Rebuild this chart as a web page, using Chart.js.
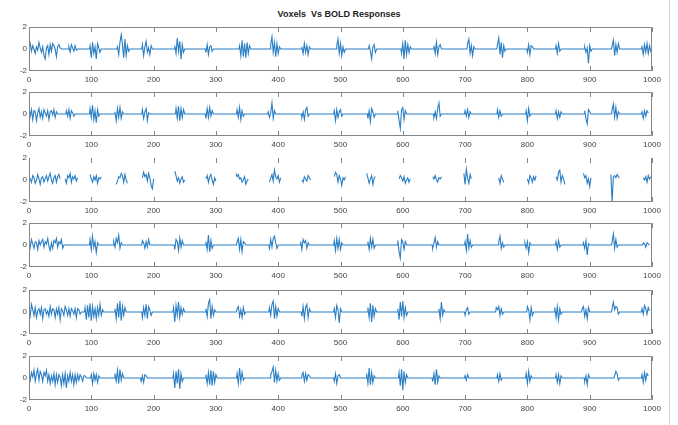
<!DOCTYPE html>
<html>
<head>
<meta charset="utf-8">
<script src="https://cdn.jsdelivr.net/npm/chart.js@4.4.1/dist/chart.umd.min.js"></script>
<style>
  body { margin: 0; background: #fff; }
  #wrap { position: relative; width: 678px; height: 425px; overflow: hidden; }
  #wrap canvas { position: absolute; left: 0; }
  #title {
    position: absolute; top: 9px; left: 0; width: 678px; text-align: center;
    font: bold 9px "Liberation Sans", Arial, sans-serif; color: #222; white-space: pre;
  }
  #edge { position: absolute; top: 0; left: 669px; width: 0; height: 425px; border-left: 1px solid #d4d4d4; }
</style>
</head>
<body>
<div id="wrap">
  <div id="title">Voxels  Vs BOLD Responses</div>
  <div id="edge"></div>
</div>
<script>
const chartTitle = "Voxels  Vs BOLD Responses";
const xTicks = [0, 100, 200, 300, 400, 500, 600, 700, 800, 900, 1000];
const yTicks = [-2, 0, 2];

// each burst: [start sample, values every 2 samples]
const row1Bursts = [
  [0, [0.1, 0.5, -0.2, 0.3, 0.0, -0.4, 0.2, -0.1, 0.6, 0.1, -0.3, 0.2, -0.6, -0.9, 0.1, 0.3, -0.5, 0.4, -0.2, 0.5, 0.3, 0.0, -0.7, 0.2, 0.4, 0.1, 0]],
  [64, [0.2, -0.3, 0.4, 0.1, -0.2, 0.3, -0.1, 0]],
  [98, [0.3, -0.8, 0.6, -0.4, 0.2, -0.9, 0.5, 0.1, -0.3, 0]],
  [142, [0.2, -0.5, 0.6, 1.3, 0.4, -0.8, 0.9, -0.6, 0.3, -0.2, 0]],
  [182, [0.4, -0.6, 0.2, 0.7, -0.3, 0.1, -0.5, 0.3, 0]],
  [234, [0.3, -0.4, 1.0, -0.2, 0.7, -0.9, 0.4, -0.3, 0]],
  [284, [-0.3, 0.4, -0.5, 0.2, 0.3, -0.2, 0]],
  [338, [0.3, -0.6, 0.8, -0.7, 0.5, -0.8, 0.6, -0.4, 0.3, 0]],
  [388, [0.4, 1.1, -0.3, 0.6, -0.7, 0.5, -0.4, 0.2, 0]],
  [438, [0.2, -0.4, 0.5, -0.3, 0.3, -0.5, 0.2, 0]],
  [494, [0.3, 0.9, -0.4, 0.5, -0.6, 0.2, -0.3, 0]],
  [546, [0.3, -0.2, -0.9, 0.2, 0.4, -0.3, 0]],
  [598, [-0.4, 0.5, -0.9, 0.8, -0.5, 0.4, -0.3, 0.2, 0]],
  [650, [0.3, -0.4, 0.6, -0.5, 0.2, 0.4, 0]],
  [704, [0.5, 0.9, -0.4, 0.3, -0.6, 0.2, 0]],
  [752, [0.4, 1.0, -0.5, 0.6, -0.8, 0.3, -0.2, 0]],
  [800, [-0.3, 0.4, -0.5, 0.3, 0.2, 0]],
  [846, [0.3, -0.4, 0.5, -0.2, 0]],
  [892, [0.2, -0.3, 0.1, -1.3, 0.3, -0.2, 0]],
  [936, [0.3, 0.8, -0.6, 0.4, -0.3, 0.5, 0]],
  [984, [0.2, -0.5, 0.4, -0.3, 0.5, -0.4, 0.3, -0.2, 0.1]]
];

const row2Bursts = [
  [0, [0.6, -0.2, 0.4, -0.5, 0.3, 0.2, -0.6, 0.1, 0.5, -0.3, 0.2, -0.4, 0.4, 0.1, -0.2, 0.3, -0.5, 0.2, 0.3, -0.1, 0.4, -0.3, 0.2, 0]],
  [60, [0.3, -0.2, 0.4, -0.4, 0.3, 0.1, -0.2, 0]],
  [98, [0.5, -0.3, 0.8, -0.5, 0.3, -0.8, 0.4, -0.2, 0]],
  [138, [0.2, -0.6, 0.5, -0.3, 0.6, -0.4, 0.2, 0]],
  [182, [0.4, -0.4, 0.2, 0.5, -0.6, 0.1, 0]],
  [236, [0.5, -0.4, 0.7, -0.6, 0.5, -0.3, 0.4, 0]],
  [284, [-0.4, 0.5, -0.3, 0.6, -0.2, 0.3, 0]],
  [334, [0.4, -0.3, 0.6, -0.5, 0.3, -0.2, 0]],
  [384, [0.2, -0.3, 0.1, 1.0, -0.4, 0.3, 0]],
  [438, [-0.3, 0.2, -0.5, 0.4, 0.6, -0.2, 0]],
  [490, [0.3, -0.6, 0.4, -0.3, 0.2, 0.4, -0.2, 0]],
  [544, [-0.4, 0.3, -0.7, 0.5, 0.2, -0.3, 0]],
  [592, [0.3, -0.6, -1.3, 0.4, 0.6, -0.5, 0.3, 0]],
  [650, [-0.3, 0.2, -0.4, 0.5, 1.0, -0.2, 0]],
  [700, [0.3, -0.2, 0.4, -0.3, 0.2, 0]],
  [752, [0.4, -0.3, 0.3, -0.2, 0]],
  [798, [0.3, -0.6, 0.5, -0.2, 0]],
  [846, [0.3, -0.4, 0.2, -0.3, 0.2, 0]],
  [892, [0.3, -0.4, -0.9, 0.4, 0.2, 0]],
  [936, [0.4, 0.9, -0.3, 0.6, -0.4, 0.2, 0]],
  [984, [0.2, -0.4, 0.3, -0.2, 0.3, 0.1]]
];

// row 3 has no samples between the bursts
const row3Bursts = [
  [0, [0.3, 0.1, -0.2, 0.4, 0.2, -0.3, 0.0, 0.5, 0.1, -0.4, 0.2, 0.3, -0.2, 0.1, 0.4, -0.1, 0.3, 0.6, 0.0, -0.3, 0.2, 0.4, -0.2, 0.3, 0.5, 0.1]],
  [58, [0.1, -0.3, 0.4, 0.2, 0.6, -0.2, 0.3, 0.1, 0.4, -0.1, 0.2]],
  [98, [0.5, 0.1, -0.2, 0.3, 0.0, 0.4, -0.3, 0.2, 0.1, 0.3]],
  [140, [-0.4, -0.1, 0.3, 0.2, 0.6, 0.4, -0.2, 0.5, 0.0, -0.3]],
  [182, [0.2, 0.7, 0.3, 0.5, -0.1, 0.6, 0.2, -0.5, -0.8, 0.1]],
  [234, [0.8, 0.4, -0.1, 0.2, -0.3, 0.1, 0.3, -0.2, 0.0]],
  [284, [0.1, 0.4, -0.2, 0.3, 0.5, 0.0, -0.4, 0.2, -0.1]],
  [332, [0.6, 0.3, 0.5, 0.1, 0.2, -0.2, 0.0, 0.3, -0.4, -0.1, 0.1]],
  [386, [-0.2, 0.2, 0.5, -0.1, 0.9, 0.3, 0.1, 0.4, -0.2, 0.2]],
  [438, [0.0, -0.2, 0.3, 0.1, -0.1, 0.4, 0.2, 0.0]],
  [490, [0.3, 0.7, 0.5, -0.2, 0.4, 0.1, -0.5, 0.2, 0.0, 0.3]],
  [542, [0.6, 0.2, -0.3, 0.1, 0.4, -0.4, 0.2, 0.3]],
  [594, [0.1, 0.4, 0.2, -0.1, 0.3, -0.3, 0.0, 0.2, -0.2, 0.1]],
  [648, [0.3, 0.1, 0.4, 0.0, -0.2, 0.2, 0.1, 0.3]],
  [698, [0.6, -0.4, 1.0, 0.2, -0.3, 0.5, 0.1]],
  [754, [0.2, -0.3, 0.4, 0.1, -0.2]],
  [800, [0.1, -0.3, 0.4, 0.2, -0.2, 0.3, 0.0, 0.4]],
  [846, [0.3, 0.0, 0.7, 0.9, -0.2, 0.4, 0.1, -0.4]],
  [890, [0.6, 0.2, 0.4, -0.3, 0.1, -0.6, 0.2]],
  [934, [0.5, -2.0, 0.3, 0.4, 0.2, 0.5, 0.3, 0.2]],
  [986, [0.2, 0.0, 0.3, -0.2, 0.4, 0.1, 0.3]]
];

const row4Bursts = [
  [0, [0.4, -0.2, 0.5, 0.1, -0.3, 0.3, 0.2, -0.4, 0.4, 0.0, 0.3, 0.5, -0.2, 0.3, 0.1, 0.6, -0.1, -0.5, 0.2, -0.3, 0.4, 0.2, 0.6, -0.2, 0.3, 0.1, 0.5, -0.3, 0]],
  [98, [0.5, -0.4, 0.8, -0.2, 0.3, -0.7, 0.2, 0]],
  [136, [0.3, -0.2, 0.6, 0.2, 0.9, -0.3, 0.2, 0]],
  [182, [0.4, 0.2, -0.3, 0.3, -0.2, 0.5, 0]],
  [234, [-0.4, 0.5, 0.3, -0.5, 0.6, -0.2, 0.4, 0]],
  [284, [0.3, -0.4, 0.9, -0.6, 0.4, -0.3, 0]],
  [334, [0.3, 0.6, -0.4, 0.5, -0.6, 0.3, 0.2, 0]],
  [386, [-0.3, 0.5, -0.2, 0.6, 0.8, 0.2, -0.3, 0]],
  [436, [0.3, -0.4, 0.5, 0.2, 0.4, -0.3, 0.2, 0]],
  [490, [0.4, -0.5, 0.6, -0.3, 0.5, -0.4, 0.2, 0]],
  [544, [0.3, -0.4, 0.6, -0.2, 0.5, -0.3, 0]],
  [592, [0.4, -0.6, -1.2, 0.5, 0.3, -0.4, 0.3, 0]],
  [648, [-0.3, 0.2, 0.7, -0.2, 0.3, 0]],
  [700, [0.3, -0.5, 1.0, -0.3, 0.4, -0.2, 0]],
  [754, [0.3, 0.8, -0.3, 0.2, -0.2, 0]],
  [796, [0.2, -0.3, 0.3, -0.7, 0.2, 0]],
  [846, [0.3, -0.4, 0.4, -0.2, 0]],
  [890, [0.2, -0.3, 0.4, -0.9, 0.1, 0]],
  [936, [0.3, 1.0, -0.3, 0.5, -0.2, 0]],
  [986, [0.2, 0.1, -0.2, 0.2, 0.1, 0]]
];

const row5Bursts = [
  [0, [0.5, -0.3, 0.7, 0.2, -0.3, 0.4, -0.5, 0.1, 0.3, -0.2, 0.4, -0.6, 0.2, 0.3, -0.2, 0.1, -0.4, 0.5, -0.2, 0.3, 0.2, -0.5, 0.3, -0.2, 0.4, -0.7, 0.3, 0.1, -0.3, 0.5, 0.2, -0.3, 0.3, -0.4, 0.3, 0.1, -0.2, 0.3, -0.5, 0.3, 0.2, -0.2, 0]],
  [90, [0.4, -0.7, 0.6, -0.5, 0.8, -0.8, 0.5, -0.4, 0.3, -0.6, 0.4, -0.3, 0.7, -0.3, 0.2, 0]],
  [138, [0.3, -0.6, 0.8, -0.5, 1.0, -0.8, 0.5, -0.3, 0.4, 0]],
  [182, [-0.5, 0.4, -0.3, 0.7, -0.6, 0.5, 0.2, -0.3, 0]],
  [232, [0.4, -0.9, 0.6, -0.3, 0.9, -0.5, 0.4, -0.2, 0.3, 0]],
  [284, [0.3, -0.4, 0.8, 1.1, -0.6, 0.5, -0.3, 0.2, 0]],
  [334, [0.3, 0.5, -0.4, 0.2, -0.5, 0.4, -0.2, 0]],
  [386, [0.4, -0.3, 0.7, 1.0, -0.6, 0.5, -0.4, 0.3, 0]],
  [438, [-0.4, 0.5, -0.6, 0.4, 0.7, -0.5, 0.3, 0]],
  [490, [0.3, -0.5, 0.6, 0.2, -1.0, 0.3, 0]],
  [544, [0.4, -0.5, 0.8, -0.9, 0.6, -0.4, 0.3, 0]],
  [592, [0.3, -0.7, 0.9, -0.4, 1.0, -0.5, 0.4, -0.3, 0]],
  [658, [0.3, -0.6, 0.9, -0.3, 0.2, 0]],
  [700, [-0.3, 0.2, 0.4, -0.2, 0]],
  [750, [0.4, 0.2, 0.5, -0.3, 0.3, -0.2, 0]],
  [800, [0.5, 0.2, -0.7, 0.4, -0.3, 0]],
  [844, [0.4, -0.5, 0.5, -0.7, 0.3, -0.2, 0]],
  [888, [0.3, 0.5, -0.4, 0.2, -0.6, 0.4, 0]],
  [936, [0.3, 0.9, 0.2, 0.5, 0.4, -0.2, 0]],
  [984, [0.3, -0.2, 0.6, 0.3, -0.2, 0.4, 0.1]]
];

const row6Bursts = [
  [0, [0.3, -0.2, 0.5, 0.1, 0.7, -0.3, 0.4, 0.8, -0.2, 0.6, 0.3, -0.3, 0.5, 0.2, 0.7, -0.3, 0.3, -0.5, 0.2, -0.3, 0.4, -0.6, 0.3, -0.4, 0.3, 0.1, -0.7, 0.3, -0.5, 0.4, -0.9, 0.2, -0.3, 0.5, -0.3, 0.3, -0.6, 0.3, -0.4, 0.3, -0.2, 0.3, 0.1, -0.3, 0.2, 0.2, 0]],
  [100, [0.3, -0.5, 0.4, -0.2, 0.3, -0.4, 0.2, 0]],
  [138, [0.4, -0.3, 0.7, -0.5, 0.8, -0.2, 0.4, 0]],
  [180, [-0.3, 0.2, -0.4, 0.3, 0.2, 0]],
  [232, [0.4, -0.9, 0.6, -0.5, 0.8, -1.0, 0.4, -0.3, 0]],
  [284, [0.3, -0.5, 0.5, -0.6, 0.7, -0.7, 0.6, -0.4, 0.3, 0]],
  [334, [0.4, -0.5, 0.9, -0.3, 0.5, -0.2, 0]],
  [388, [0.3, 0.6, 1.0, -0.4, 0.7, -0.3, 0.4, -0.2, 0]],
  [438, [0.3, 0.5, -0.3, 0.4, -0.2, 0.3, 0.2, 0]],
  [490, [-0.3, 0.4, -0.5, 0.2, 0.3, 0]],
  [542, [0.4, -0.5, 0.9, -0.6, 0.5, -0.4, 0.2, 0]],
  [594, [0.5, -0.7, 0.8, -1.1, 0.6, -0.4, 0.3, 0]],
  [648, [-0.3, 0.4, -0.6, 0.8, -0.4, 0.2, 0]],
  [700, [0.2, -0.2, 0.3, 0]],
  [752, [0.3, -0.3, 0.4, -0.2, 0]],
  [798, [0.4, -0.5, 0.6, -0.3, 0.2, 0]],
  [846, [0.3, -0.4, 0.3, -0.5, 0.2, 0]],
  [892, [-0.3, 0.2, -0.6, 0.3, 0]],
  [940, [0.2, 0.6, 0.4, -0.2, 0]],
  [984, [0.3, -0.4, 0.5, -0.2, 0.4, 0.2]]
];

const rows = [
  { bursts: row1Bursts, top: 27, gaps: false },
  { bursts: row2Bursts, top: 92, gaps: false },
  { bursts: row3Bursts, top: 158, gaps: true },
  { bursts: row4Bursts, top: 223, gaps: false },
  { bursts: row5Bursts, top: 290, gaps: false },
  { bursts: row6Bursts, top: 356, gaps: false }
];

const BOX_H = 44;
const PAD_TOP = 8;
const AXIS_H = 20;
const lineColor = '#2a7ec4';
const tickFont = { family: '"Liberation Sans", Arial, sans-serif', size: 8 };

function buildPoints(bursts, gaps) {
    const pts = [];
    bursts.forEach(([start, vals], i) => {
        if (i > 0) pts.push({ x: start - 1, y: gaps ? null : 0 });
        vals.forEach((v, k) => pts.push({ x: start + k * 2, y: v }));
    });
    return pts;
}

// matlab style box with inward ticks
const boxPlugin = {
    id: 'boxTicks',
    afterDraw(chart, args, opts) {
        const { ctx, chartArea: a } = chart;
        const xs = chart.scales.x;
        ctx.save();
        ctx.strokeStyle = '#858585';
        ctx.lineWidth = 1;
        ctx.beginPath();
        if (opts.noTop) {
            ctx.moveTo(a.left + 0.5, a.top);
            ctx.lineTo(a.left + 0.5, a.bottom - 0.5);
            ctx.lineTo(a.right - 0.5, a.bottom - 0.5);
            ctx.lineTo(a.right - 0.5, a.top);
        } else {
            ctx.rect(a.left + 0.5, a.top + 0.5, a.right - a.left - 1, a.bottom - a.top - 1);
        }
        xTicks.forEach(v => {
            const px = Math.round(xs.getPixelForValue(v)) + 0.5;
            ctx.moveTo(px, a.top);
            ctx.lineTo(px, a.top + 5);
            ctx.moveTo(px, a.bottom);
            ctx.lineTo(px, a.bottom - 5);
        });
        ctx.stroke();
        ctx.restore();
    }
};

const wrap = document.getElementById('wrap');

rows.forEach((row, i) => {
    const canvas = document.createElement('canvas');
    canvas.width = 678;
    canvas.height = PAD_TOP + BOX_H + AXIS_H;
    canvas.style.top = (row.top - PAD_TOP) + 'px';
    wrap.appendChild(canvas);

    new Chart(canvas, {
        type: 'line',
        data: {
            datasets: [{
                label: i === 0 ? chartTitle : 'voxel ' + (i + 1),
                data: buildPoints(row.bursts, row.gaps),
                borderColor: lineColor,
                borderWidth: 1.1,
                pointRadius: 0,
                tension: 0,
                spanGaps: false
            }]
        },
        options: {
            responsive: false,
            animation: false,
            devicePixelRatio: 1,
            layout: { padding: { left: 0, right: 26, top: PAD_TOP, bottom: 0 } },
            plugins: {
                legend: { display: false },
                tooltip: { enabled: false },
                boxTicks: { noTop: row.gaps }
            },
            scales: {
                x: {
                    type: 'linear',
                    min: 0,
                    max: 1000,
                    grid: { display: false, drawTicks: false, tickLength: 0 },
                    border: { display: false },
                    afterBuildTicks: s => { s.ticks = xTicks.map(v => ({ value: v })); },
                    afterFit: s => { s.height = AXIS_H; },
                    ticks: {
                        color: '#444', font: tickFont, padding: 4, maxRotation: 0, autoSkip: false,
                        callback: v => String(v)
                    }
                },
                y: {
                    min: -2,
                    max: 2,
                    grid: { display: false, drawTicks: false, tickLength: 0 },
                    border: { display: false },
                    afterBuildTicks: s => { s.ticks = yTicks.map(v => ({ value: v })); },
                    afterFit: s => { s.width = 29; },
                    ticks: { color: '#444', font: tickFont, padding: 2, callback: v => String(v) }
                }
            }
        },
        plugins: [boxPlugin]
    });
});
</script>
</body>
</html>
